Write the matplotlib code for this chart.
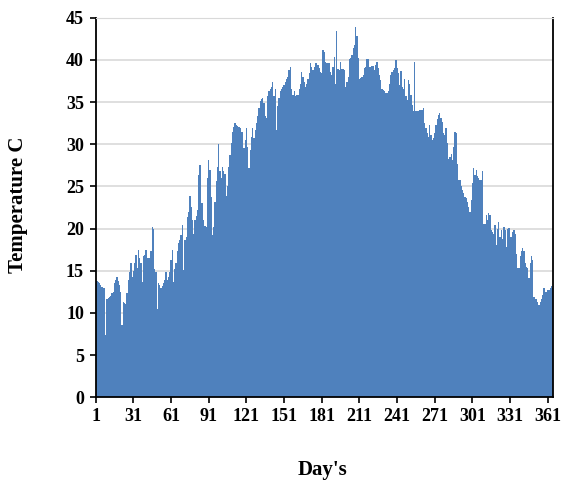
import matplotlib
matplotlib.use("Agg")
import matplotlib.pyplot as plt
import numpy as np

# daily temperature, day 1 .. 365
temps = [
    14.0, 13.8, 13.7, 13.5, 13.3, 13.1, 13.0, 12.9, 7.4, 11.7,
    11.8, 11.9, 12.0, 12.3, 12.5, 13.5, 13.9, 14.2, 13.8, 13.3,
    12.5, 8.6, 11.3, 11.2, 11.1, 12.3, 13.9, 14.8, 15.9, 14.3,
    15.0, 15.9, 16.9, 15.3, 17.5, 16.5, 15.9, 13.7, 16.7, 16.9,
    17.5, 16.5, 16.5, 16.5, 17.3, 20.2, 20.0, 15.2, 14.9, 10.5,
    13.5, 13.3, 12.9, 13.2, 13.5, 13.9, 14.9, 13.9, 14.2, 14.9,
    16.3, 17.5, 13.7, 15.2, 15.9, 17.3, 18.3, 18.6, 19.2, 20.4,
    15.1, 18.6, 19.0, 21.4, 22.0, 23.9, 22.6, 21.0, 19.4, 21.0,
    21.5, 22.2, 26.4, 27.6, 23.0, 23.0, 21.0, 20.3, 20.2, 26.0,
    28.1, 27.0, 23.8, 19.2, 20.2, 23.2, 25.6, 27.3, 30.0, 26.8,
    26.0, 27.3, 26.8, 26.5, 23.9, 25.0, 27.3, 28.7, 30.1, 31.5,
    32.1, 32.5, 32.3, 32.2, 32.1, 31.9, 31.5, 31.5, 29.5, 30.5,
    31.9, 29.7, 27.2, 29.3, 30.9, 31.9, 30.7, 31.7, 32.5, 33.3,
    34.3, 35.1, 35.4, 35.5, 34.9, 33.3, 33.1, 35.7, 36.3, 36.5,
    36.8, 37.4, 35.7, 36.5, 31.7, 34.5, 35.5, 36.3, 36.6, 36.8,
    37.0, 37.4, 37.8, 38.0, 38.8, 39.2, 36.5, 35.9, 36.3, 35.7,
    35.8, 35.9, 36.5, 37.2, 38.6, 38.0, 37.4, 36.8, 37.2, 37.8,
    38.4, 39.7, 39.2, 38.8, 39.2, 39.6, 39.6, 39.4, 39.0, 38.6,
    38.4, 41.2, 41.0, 39.8, 39.6, 39.7, 39.7, 38.6, 38.2, 39.2,
    40.4, 37.2, 43.4, 38.9, 38.8, 39.8, 38.9, 38.9, 38.8, 36.8,
    37.4, 38.0, 40.1, 40.2, 40.6, 41.4, 41.8, 43.9, 42.8, 40.2,
    37.8, 37.9, 38.0, 38.2, 39.0, 39.2, 40.1, 40.1, 39.2, 39.2,
    39.3, 39.3, 38.8, 39.4, 39.8, 39.0, 38.2, 37.6, 36.5, 36.4,
    36.3, 36.1, 36.1, 36.3, 37.2, 38.2, 38.6, 38.8, 39.0, 40.0,
    39.0, 38.4, 37.0, 38.7, 36.8, 36.5, 37.7, 35.7, 35.3, 37.6,
    37.2, 35.9, 34.7, 33.9, 39.8, 33.9, 33.9, 34.0, 34.1, 34.1,
    34.1, 34.3, 32.5, 31.9, 31.3, 30.9, 32.3, 31.1, 30.5, 30.7,
    31.3, 32.3, 33.0, 33.5, 33.7, 33.1, 32.7, 31.3, 31.1, 31.9,
    30.1, 28.3, 28.5, 28.9, 28.1, 29.7, 31.5, 31.3, 27.7, 25.8,
    25.8, 25.0, 24.6, 24.2, 23.8, 23.6, 23.1, 22.6, 22.0, 23.4,
    25.4, 27.2, 26.4, 27.0, 26.2, 26.0, 25.8, 25.8, 26.8, 20.6,
    20.6, 21.6, 21.0, 21.8, 21.6, 19.8, 19.6, 19.4, 20.4, 18.0,
    20.0, 20.8, 19.0, 19.8, 18.8, 20.2, 19.8, 17.8, 20.0, 20.1,
    19.0, 19.0, 19.6, 19.8, 19.4, 17.0, 15.3, 15.3, 16.7, 17.3,
    17.7, 17.3, 15.9, 15.5, 15.3, 14.1, 15.9, 16.7, 16.3, 11.9,
    11.7, 11.7, 11.3, 10.9, 11.3, 11.7, 12.1, 12.9, 12.5, 12.5,
    12.7, 12.7, 13.0, 13.2, 13.0,
]
days = np.arange(1, len(temps) + 1)
day_labels = [1, 31, 61, 91, 121, 151, 181, 211, 241, 271, 301, 331, 361]

plt.rcParams['font.family'] = ['Liberation Serif', 'DejaVu Serif']
plt.rcParams['font.weight'] = 'bold'

fig = plt.figure(figsize=(5.63, 4.82), dpi=100)
ax = fig.add_axes([0.170, 0.176, 0.812, 0.787])

ax.bar(days, temps, width=1.0, color='#4F81BD', edgecolor='none', zorder=2)

# first and last day sit on the axis edges
ax.set_xlim(1, len(temps))
ax.set_ylim(0, 45)
ax.set_yticks(np.arange(0, 46, 5))
ax.yaxis.grid(True, color='#D9D9D9', linewidth=1.2, zorder=0)
ax.set_axisbelow(True)

ax.set_xticks(day_labels)
ax.set_xticklabels([str(d) for d in day_labels])
ax.tick_params(axis='x', direction='out', length=4, width=1.2, pad=4, labelsize=13)
ax.tick_params(axis='y', direction='out', length=4.5, width=1.2, pad=4, labelsize=13)

for s in ['left', 'bottom', 'right']:
    ax.spines[s].set_color('black')
    ax.spines[s].set_linewidth(1.3)
ax.spines['top'].set_color('#D9D9D9')

fig.text(18 / 563, 1 - 205 / 482, 'Temperature C', rotation=90,
         ha='center', va='center', fontsize=15, fontweight='bold')
fig.text(322 / 563, 1 - 470 / 482, "Day's",
         ha='center', va='center', fontsize=15, fontweight='bold')

fig.savefig('out.png', dpi=100)
